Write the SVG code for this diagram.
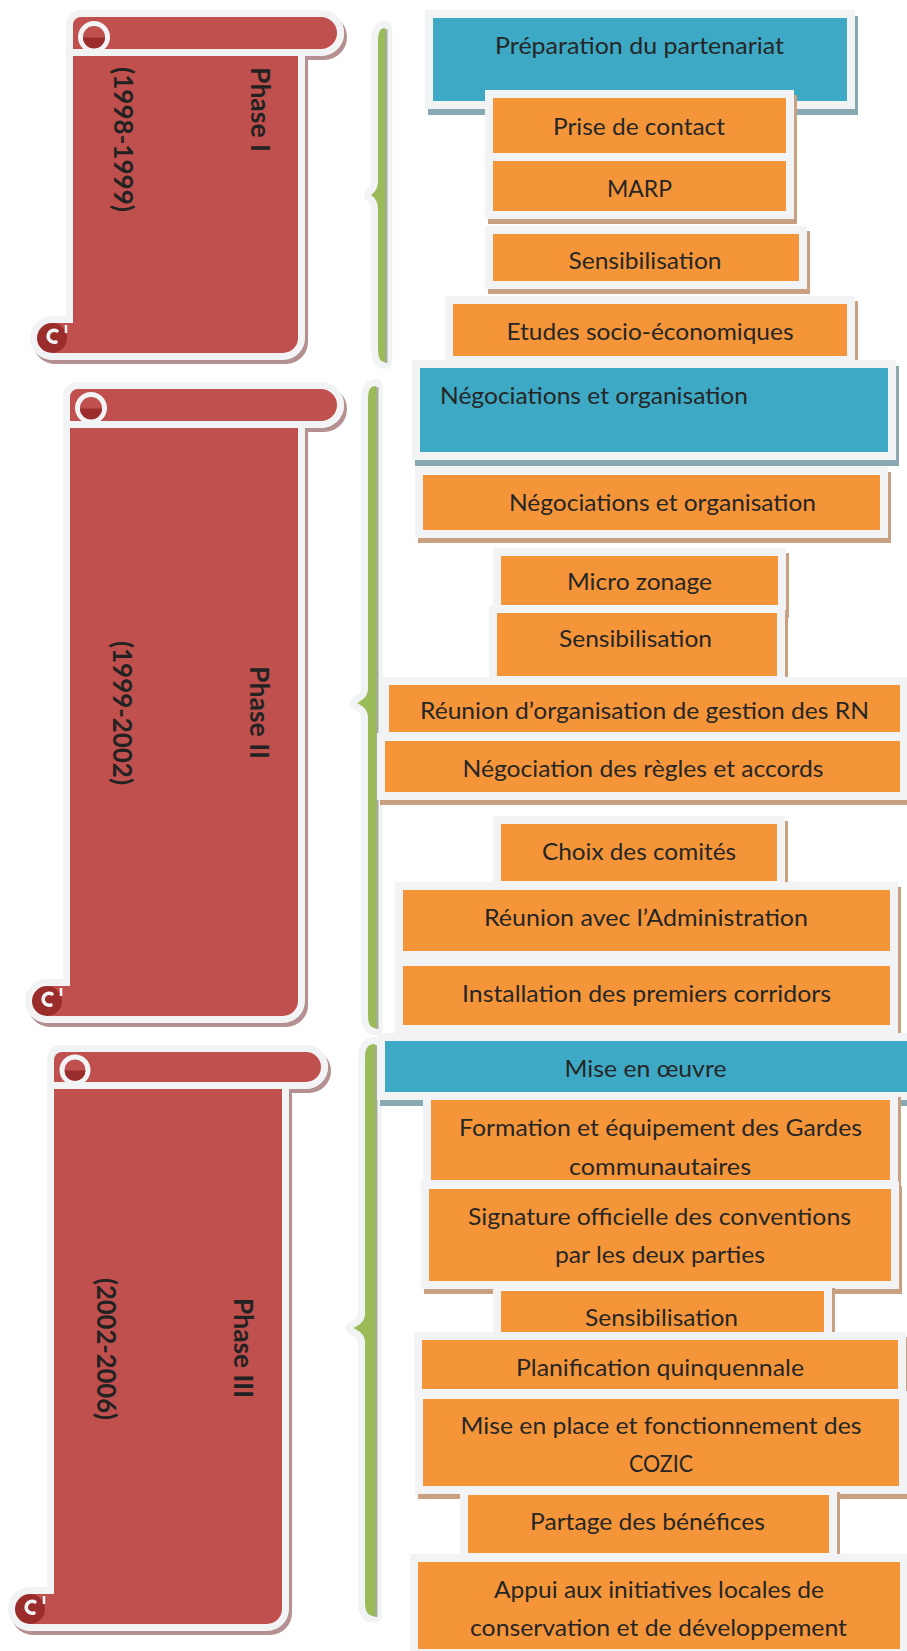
<svg xmlns="http://www.w3.org/2000/svg" width="907" height="1651" viewBox="0 0 907 1651">
<style>
.fr{fill:#F2F3F5}
.or{fill:#F59539}
.bl{fill:#3DA9C5}
.so{fill:#C9A080}
.sb{fill:#89A9B2}
.t{font-family:Lato,"Open Sans",sans-serif;font-size:23.5px;fill:#262626;text-anchor:middle}
.tl{font-family:Lato,"Open Sans",sans-serif;font-size:23.5px;fill:#262626}
.ph{font-family:Lato,"Open Sans",sans-serif;font-size:26px;font-weight:bold;fill:#222222}
.ssh{fill:#B59090;stroke:#B59090;stroke-width:14;stroke-linejoin:round}
.sol{fill:#F2F3F5;stroke:#F2F3F5;stroke-width:14;stroke-linejoin:round}
.red{fill:#C0504D}
.bar{fill:#C0504D;stroke:#F2F3F5;stroke-width:14;stroke-linejoin:round;paint-order:stroke}
.curl{fill:#C0504D;stroke:#F2F3F5;stroke-width:5}
.dk{fill:#9A2D2B}
.hook{fill:none;stroke:#F2F3F5;stroke-width:3.5;stroke-linecap:round}
.bro{fill:#F2F3F5;stroke:#F2F3F5;stroke-width:14;stroke-linejoin:round}
.brs{fill:#A3AD93}
.br{fill:#9BBB59}
</style>

<g id="connectors">
  <g id="brace1">
    <path class="bro" d="M385,28 C380,28 378,32 378,42 L378,181 C378,189 374,193 371,195 C374,197 378,201 378,209 L378,348 C378,358 380,362 385,362 Z"/>
    <path class="brs" transform="translate(2.5,1)" d="M385,28 C380,28 378,32 378,42 L378,181 C378,189 374,193 371,195 C374,197 378,201 378,209 L378,348 C378,358 380,362 385,362 Z"/>
    <path class="br" d="M385,28 C380,28 378,32 378,42 L378,181 C378,189 374,193 371,195 C374,197 378,201 378,209 L378,348 C378,358 380,362 385,362 Z"/>
  </g>
  <g id="brace2">
    <path class="bro" d="M376,386 C370,386 368,390 368,400 L368,689 C368,697 361,701 357,703 C361,705 368,709 368,717 L368,1014 C368,1024 370,1028 376,1028 Z"/>
    <path class="brs" transform="translate(2.5,1)" d="M376,386 C370,386 368,390 368,400 L368,689 C368,697 361,701 357,703 C361,705 368,709 368,717 L368,1014 C368,1024 370,1028 376,1028 Z"/>
    <path class="br" d="M376,386 C370,386 368,390 368,400 L368,689 C368,697 361,701 357,703 C361,705 368,709 368,717 L368,1014 C368,1024 370,1028 376,1028 Z"/>
  </g>
  <g id="brace3">
    <path class="bro" d="M375,1044 C368,1044 365,1048 365,1058 L365,1314 C365,1322 358,1326 353,1328 C358,1330 365,1334 365,1342 L365,1602 C365,1612 368,1616 375,1616 Z"/>
    <path class="brs" transform="translate(2.5,1)" d="M375,1044 C368,1044 365,1048 365,1058 L365,1314 C365,1322 358,1326 353,1328 C358,1330 365,1334 365,1342 L365,1602 C365,1612 368,1616 375,1616 Z"/>
    <path class="br" d="M375,1044 C368,1044 365,1048 365,1058 L365,1314 C365,1322 358,1326 353,1328 C358,1330 365,1334 365,1342 L365,1602 C365,1612 368,1616 375,1616 Z"/>
  </g>
</g>

<g id="phase1">
  <g class="ssh" transform="translate(3,4)">
    <path d="M73,49 H298 V338 A15,15 0 0 1 283,353 H52 V323 H73 Z"/>
    <path d="M81,17 H321 A16,16 0 0 1 321,49 H73 V25 A8,8 0 0 1 81,17 Z"/>
    <circle cx="52" cy="338" r="15"/>
  </g>
  <g class="sol">
    <path d="M73,49 H298 V338 A15,15 0 0 1 283,353 H52 V323 H73 Z"/>
    <path d="M81,17 H321 A16,16 0 0 1 321,49 H73 V25 A8,8 0 0 1 81,17 Z"/>
    <circle cx="52" cy="338" r="15"/>
  </g>
  <path class="red" d="M73,49 H298 V338 A15,15 0 0 1 283,353 H52 V323 H73 Z"/>
  <path class="bar" d="M81,17 H321 A16,16 0 0 1 321,49 H73 V25 A8,8 0 0 1 81,17 Z"/>
  <circle class="curl" cx="94" cy="37" r="13.5"/>
  <path class="dk" d="M83,37.5 A11,11 0 0 0 105,37.5 Z"/>
  <circle class="dk" cx="52" cy="338" r="15"/>
  <path class="hook" d="M57,331 A6,6 0 1 0 56,342"/>
  <line x1="66" y1="325" x2="66" y2="333" stroke="#F2F3F5" stroke-width="2.5"/>
  <text class="ph" transform="translate(251,67) rotate(90)" textLength="85" lengthAdjust="spacingAndGlyphs">Phase I</text>
  <text class="ph" transform="translate(114,67) rotate(90)" textLength="145" lengthAdjust="spacingAndGlyphs">(1998-1999)</text>
</g>

<g id="phase2">
  <g class="ssh" transform="translate(3,4)">
    <path d="M70,421 H298 V1001 A15,15 0 0 1 283,1016 H47 V986 H70 Z"/>
    <path d="M78,389 H321 A16,16 0 0 1 321,421 H70 V397 A8,8 0 0 1 78,389 Z"/>
    <circle cx="47" cy="1001" r="15"/>
  </g>
  <g class="sol">
    <path d="M70,421 H298 V1001 A15,15 0 0 1 283,1016 H47 V986 H70 Z"/>
    <path d="M78,389 H321 A16,16 0 0 1 321,421 H70 V397 A8,8 0 0 1 78,389 Z"/>
    <circle cx="47" cy="1001" r="15"/>
  </g>
  <path class="red" d="M70,421 H298 V1001 A15,15 0 0 1 283,1016 H47 V986 H70 Z"/>
  <path class="bar" d="M78,389 H321 A16,16 0 0 1 321,421 H70 V397 A8,8 0 0 1 78,389 Z"/>
  <circle class="curl" cx="91" cy="408" r="13.5"/>
  <path class="dk" d="M80,408.5 A11,11 0 0 0 102,408.5 Z"/>
  <circle class="dk" cx="47" cy="1001" r="15"/>
  <path class="hook" d="M52,994 A6,6 0 1 0 51,1005"/>
  <line x1="61" y1="988" x2="61" y2="996" stroke="#F2F3F5" stroke-width="2.5"/>
  <text class="ph" transform="translate(250,666) rotate(90)" textLength="93" lengthAdjust="spacingAndGlyphs">Phase II</text>
  <text class="ph" transform="translate(113,641) rotate(90)" textLength="144" lengthAdjust="spacingAndGlyphs">(1999-2002)</text>
</g>

<g id="phase3">
  <g class="ssh" transform="translate(3,4)">
    <path d="M54,1082 H282 V1609 A15,15 0 0 1 267,1624 H30 V1594 H54 Z"/>
    <path d="M62,1052 H306 A15,15 0 0 1 306,1082 H54 V1060 A8,8 0 0 1 62,1052 Z"/>
    <circle cx="30" cy="1609" r="15"/>
  </g>
  <g class="sol">
    <path d="M54,1082 H282 V1609 A15,15 0 0 1 267,1624 H30 V1594 H54 Z"/>
    <path d="M62,1052 H306 A15,15 0 0 1 306,1082 H54 V1060 A8,8 0 0 1 62,1052 Z"/>
    <circle cx="30" cy="1609" r="15"/>
  </g>
  <path class="red" d="M54,1082 H282 V1609 A15,15 0 0 1 267,1624 H30 V1594 H54 Z"/>
  <path class="bar" d="M62,1052 H306 A15,15 0 0 1 306,1082 H54 V1060 A8,8 0 0 1 62,1052 Z"/>
  <circle class="curl" cx="75" cy="1070" r="13"/>
  <path class="dk" d="M64.5,1070.5 A10.5,10.5 0 0 0 85.5,1070.5 Z"/>
  <circle class="dk" cx="30" cy="1609" r="15"/>
  <path class="hook" d="M35,1602 A6,6 0 1 0 34,1613"/>
  <line x1="44" y1="1596" x2="44" y2="1604" stroke="#F2F3F5" stroke-width="2.5"/>
  <text class="ph" transform="translate(234,1298) rotate(90)" textLength="100" lengthAdjust="spacingAndGlyphs">Phase III</text>
  <text class="ph" transform="translate(97,1278) rotate(90)" textLength="142" lengthAdjust="spacingAndGlyphs">(2002-2006)</text>
</g>

<g id="n-preparation">
  <rect class="sb" x="428" y="16" width="430" height="99"/>
  <rect class="fr" x="425" y="10" width="430" height="99"/>
  <rect class="bl" x="433" y="18" width="414" height="83"/>
  <text class="t" x="639.5" y="54" textLength="289" lengthAdjust="spacingAndGlyphs">Préparation du partenariat</text>
</g>
<g id="n-prise">
  <rect class="so" x="488" y="95" width="309" height="71"/>
  <rect class="fr" x="485" y="90" width="309" height="71"/>
  <rect class="or" x="493" y="98" width="293" height="55"/>
  <text class="t" x="639" y="134.5" textLength="172" lengthAdjust="spacingAndGlyphs">Prise de contact</text>
</g>
<g id="n-marp">
  <rect class="so" x="488" y="158" width="309" height="66"/>
  <rect class="fr" x="485" y="153" width="309" height="66"/>
  <rect class="or" x="493" y="161" width="293" height="50"/>
  <text class="t" x="639.5" y="197" textLength="65" lengthAdjust="spacingAndGlyphs">MARP</text>
</g>
<g id="n-sensib1">
  <rect class="so" x="488" y="231" width="322" height="63"/>
  <rect class="fr" x="485" y="226" width="322" height="63"/>
  <rect class="or" x="493" y="234" width="306" height="47"/>
  <text class="t" x="645" y="269" textLength="153" lengthAdjust="spacingAndGlyphs">Sensibilisation</text>
</g>
<g id="n-etudes">
  <rect class="so" x="448" y="301" width="410" height="68"/>
  <rect class="fr" x="445" y="296" width="410" height="68"/>
  <rect class="or" x="453" y="304" width="394" height="52"/>
  <text class="t" x="650" y="339.5" textLength="287" lengthAdjust="spacingAndGlyphs">Etudes socio-économiques</text>
</g>
<g id="n-negociations">
  <rect class="sb" x="415" y="366" width="484" height="100"/>
  <rect class="fr" x="412" y="360" width="484" height="100"/>
  <rect class="bl" x="420" y="368" width="468" height="84"/>
  <text class="tl" x="440" y="404" textLength="308" lengthAdjust="spacingAndGlyphs">Négociations et organisation</text>
</g>
<g id="n-negociations2">
  <rect class="so" x="418" y="472" width="473" height="71"/>
  <rect class="fr" x="415" y="467" width="473" height="71"/>
  <rect class="or" x="423" y="475" width="457" height="55"/>
  <text class="t" x="662.5" y="511" textLength="307" lengthAdjust="spacingAndGlyphs">Négociations et organisation</text>
</g>
<g id="n-micro">
  <rect class="so" x="496" y="553" width="293" height="65"/>
  <rect class="fr" x="493" y="548" width="293" height="65"/>
  <rect class="or" x="501" y="556" width="277" height="49"/>
  <text class="t" x="639.5" y="590" textLength="145" lengthAdjust="spacingAndGlyphs">Micro zonage</text>
</g>
<g id="n-sensib2">
  <rect class="so" x="492" y="610" width="296" height="79"/>
  <rect class="fr" x="489" y="605" width="296" height="79"/>
  <rect class="or" x="497" y="613" width="280" height="63"/>
  <text class="t" x="635.5" y="647" textLength="153" lengthAdjust="spacingAndGlyphs">Sensibilisation</text>
</g>
<g id="n-reunion-org">
  <rect class="so" x="384" y="682" width="527" height="63"/>
  <rect class="fr" x="381" y="677" width="527" height="63"/>
  <rect class="or" x="389" y="685" width="511" height="47"/>
  <text class="t" x="644.5" y="719" textLength="449" lengthAdjust="spacingAndGlyphs">Réunion d’organisation de gestion des RN</text>
</g>
<g id="n-regles">
  <rect class="so" x="380" y="738" width="531" height="67"/>
  <rect class="fr" x="377" y="733" width="531" height="67"/>
  <rect class="or" x="385" y="741" width="515" height="51"/>
  <text class="t" x="643" y="777" textLength="361" lengthAdjust="spacingAndGlyphs">Négociation des règles et accords</text>
</g>
<g id="n-choix">
  <rect class="so" x="496" y="821" width="292" height="73"/>
  <rect class="fr" x="493" y="816" width="292" height="73"/>
  <rect class="or" x="501" y="824" width="276" height="57"/>
  <text class="t" x="639" y="860" textLength="194" lengthAdjust="spacingAndGlyphs">Choix des comités</text>
</g>
<g id="n-reunion-admin">
  <rect class="so" x="398" y="887" width="503" height="77"/>
  <rect class="fr" x="395" y="882" width="503" height="77"/>
  <rect class="or" x="403" y="890" width="487" height="61"/>
  <text class="t" x="646" y="926" textLength="324" lengthAdjust="spacingAndGlyphs">Réunion avec l’Administration</text>
</g>
<g id="n-installation">
  <rect class="so" x="398" y="963" width="503" height="75"/>
  <rect class="fr" x="395" y="958" width="503" height="75"/>
  <rect class="or" x="403" y="966" width="487" height="59"/>
  <text class="t" x="646.5" y="1002" textLength="369" lengthAdjust="spacingAndGlyphs">Installation des premiers corridors</text>
</g>
<g id="n-mise-en-oeuvre">
  <rect class="sb" x="380" y="1039" width="546" height="67"/>
  <rect class="fr" x="377" y="1033" width="546" height="67"/>
  <rect class="bl" x="385" y="1041" width="530" height="51"/>
  <text class="t" x="645.5" y="1077" textLength="162" lengthAdjust="spacingAndGlyphs">Mise en œuvre</text>
</g>
<g id="n-formation">
  <rect class="so" x="426" y="1097" width="475" height="96"/>
  <rect class="fr" x="423" y="1092" width="475" height="96"/>
  <rect class="or" x="431" y="1100" width="459" height="80"/>
  <text class="t" x="660.5" y="1136" textLength="403" lengthAdjust="spacingAndGlyphs">Formation et équipement des Gardes</text>
  <text class="t" x="660" y="1175" textLength="182" lengthAdjust="spacingAndGlyphs">communautaires</text>
</g>
<g id="n-signature">
  <rect class="so" x="424" y="1186" width="478" height="108"/>
  <rect class="fr" x="421" y="1181" width="478" height="108"/>
  <rect class="or" x="429" y="1189" width="462" height="92"/>
  <text class="t" x="659.5" y="1225" textLength="383" lengthAdjust="spacingAndGlyphs">Signature officielle des conventions</text>
  <text class="t" x="660" y="1263" textLength="210" lengthAdjust="spacingAndGlyphs">par les deux parties</text>
</g>
<g id="n-sensib3">
  <rect class="so" x="496" y="1288" width="339" height="63"/>
  <rect class="fr" x="493" y="1283" width="339" height="63"/>
  <rect class="or" x="501" y="1291" width="323" height="47"/>
  <text class="t" x="661.5" y="1326" textLength="153" lengthAdjust="spacingAndGlyphs">Sensibilisation</text>
</g>
<g id="n-planification">
  <rect class="so" x="417" y="1337" width="492" height="65"/>
  <rect class="fr" x="414" y="1332" width="492" height="65"/>
  <rect class="or" x="422" y="1340" width="476" height="49"/>
  <text class="t" x="660" y="1376" textLength="288" lengthAdjust="spacingAndGlyphs">Planification quinquennale</text>
</g>
<g id="n-mise-en-place">
  <rect class="so" x="418" y="1396" width="492" height="103"/>
  <rect class="fr" x="415" y="1391" width="492" height="103"/>
  <rect class="or" x="423" y="1399" width="476" height="87"/>
  <text class="t" x="661" y="1434" textLength="401" lengthAdjust="spacingAndGlyphs">Mise en place et fonctionnement des</text>
  <text class="t" x="661" y="1472" textLength="64" lengthAdjust="spacingAndGlyphs">COZIC</text>
</g>
<g id="n-partage">
  <rect class="so" x="463" y="1492" width="377" height="74"/>
  <rect class="fr" x="460" y="1487" width="377" height="74"/>
  <rect class="or" x="468" y="1495" width="361" height="58"/>
  <text class="t" x="647.5" y="1530" textLength="235" lengthAdjust="spacingAndGlyphs">Partage des bénéfices</text>
</g>
<g id="n-appui">
  <rect class="so" x="413" y="1559" width="498" height="103"/>
  <rect class="fr" x="410" y="1554" width="498" height="103"/>
  <rect class="or" x="418" y="1562" width="482" height="87"/>
  <text class="t" x="659" y="1598" textLength="330" lengthAdjust="spacingAndGlyphs">Appui aux initiatives locales de</text>
  <text class="t" x="658.5" y="1636" textLength="377" lengthAdjust="spacingAndGlyphs">conservation et de développement</text>
</g>
</svg>
